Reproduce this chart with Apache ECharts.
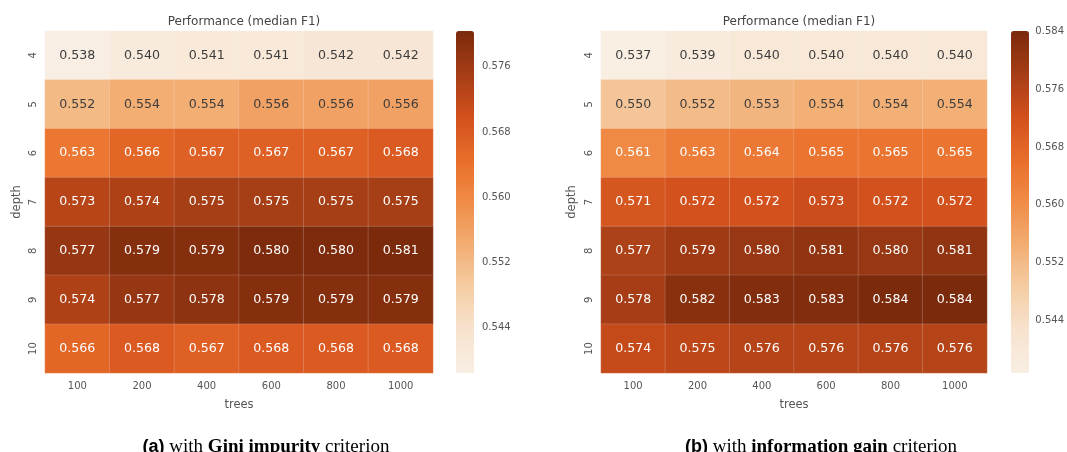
<!DOCTYPE html>
<html><head><meta charset="utf-8">
<script src="https://cdn.jsdelivr.net/npm/echarts@6/dist/echarts.min.js"></script>
<style>html,body{margin:0;padding:0;background:#fff}#c{width:1067px;height:452px}</style>
</head><body><div id="c"></div>
<script>
const trees = ['100','200','400','600','800','1000'];
const depths = ['4','5','6','7','8','9','10'];
const giniF1 = [
  [0.538,0.540,0.541,0.541,0.542,0.542],
  [0.552,0.554,0.554,0.556,0.556,0.556],
  [0.563,0.566,0.567,0.567,0.567,0.568],
  [0.573,0.574,0.575,0.575,0.575,0.575],
  [0.577,0.579,0.579,0.580,0.580,0.581],
  [0.574,0.577,0.578,0.579,0.579,0.579],
  [0.566,0.568,0.567,0.568,0.568,0.568]
];
const infoF1 = [
  [0.537,0.539,0.540,0.540,0.540,0.540],
  [0.550,0.552,0.553,0.554,0.554,0.554],
  [0.561,0.563,0.564,0.565,0.565,0.565],
  [0.571,0.572,0.572,0.573,0.572,0.572],
  [0.577,0.579,0.580,0.581,0.580,0.581],
  [0.578,0.582,0.583,0.583,0.584,0.584],
  [0.574,0.575,0.576,0.576,0.576,0.576]
];
const giniRange = [0.5384, 0.5804];
const infoRange = [0.5368, 0.5840];
const giniTicks = [0.544,0.552,0.560,0.568,0.576];
const infoTicks = [0.544,0.552,0.560,0.568,0.576,0.584];
const oranges = ['#f8eee3','#f7e3cf','#f5cda4','#f2ad72','#f08c47','#e86d2a','#d2501c','#a53d16','#7b2a0c'];

const FONT = 'DejaVu Sans';
function cells(mat, range){
  const mid = (range[0]+range[1])/2;
  const out = [];
  mat.forEach((row, r) => row.forEach((v, c) => {
    out.push({value:[c, r, v], label:{color: v > mid ? '#ffffff' : '#3c3c3c'}});
  }));
  return out;
}
const grids = [
  {left:45, top:31, width:388, height:342},
  {left:601, top:31, width:386, height:342},
  {left:456, top:31, width:18, height:342},
  {left:1011, top:31, width:18, height:342}
];
function catX(i){
  return {type:'category', gridIndex:i, data:trees, position:'bottom',
    axisLine:{show:false}, axisTick:{show:false}, splitArea:{show:false},
    axisLabel:{color:'#555', fontFamily:FONT, fontSize:10, margin:8},
    name:'trees', nameLocation:'middle', nameGap:26,
    nameTextStyle:{color:'#555', fontFamily:FONT, fontSize:11.5}};
}
function catY(i, gap){
  return {type:'category', gridIndex:i, data:depths, inverse:true,
    axisLine:{show:false}, axisTick:{show:false},
    axisLabel:{color:'#555', fontFamily:FONT, fontSize:10, rotate:90, margin:7},
    name:'depth', nameLocation:'middle', nameGap:gap, nameRotate:90,
    nameTextStyle:{color:'#555', fontFamily:FONT, fontSize:11.5}};
}
function barY(i, range, ticks){
  return {type:'value', gridIndex:i, min:range[0], max:range[1], position:'right',
    axisLine:{show:false}, axisTick:{show:false}, splitLine:{show:false},
    axisLabel:{color:'#555', fontFamily:FONT, fontSize:10, margin:8,
      customValues:ticks, formatter:v=>v.toFixed(3)}};
}
const capRich = {
  a:{fontFamily:'Liberation Sans', fontWeight:'bold', fontSize:18, color:'#000'},
  s:{fontFamily:'Liberation Serif', fontWeight:'normal', fontSize:19, color:'#000'},
  b:{fontFamily:'Liberation Serif', fontWeight:'bold', fontSize:19, color:'#000'}
};
const option = {
  animation:false,
  grid:grids,
  title:[
    {text:'Performance (median F1)', left:239, top:11, textAlign:'center',
      textStyle:{color:'#444', fontFamily:FONT, fontSize:12, fontWeight:'normal'}},
    {text:'Performance (median F1)', left:794, top:11, textAlign:'center',
      textStyle:{color:'#444', fontFamily:FONT, fontSize:12, fontWeight:'normal'}},
    {text:'{a|(a)}{s| with }{b|Gini impurity}{s| criterion}', left:261, top:433, textAlign:'center',
      textStyle:{fontWeight:'normal', fontFamily:'Liberation Serif', fontSize:19, rich:capRich}},
    {text:'{a|(b)}{s| with }{b|information gain}{s| criterion}', left:816, top:433, textAlign:'center',
      textStyle:{fontWeight:'normal', fontFamily:'Liberation Serif', fontSize:19, rich:capRich}}
  ],
  xAxis:[catX(0), catX(1),
    {type:'value', gridIndex:2, show:false}, {type:'value', gridIndex:3, show:false}],
  yAxis:[catY(0, 22), catY(1, 23), barY(2, giniRange, giniTicks), barY(3, infoRange, infoTicks)],
  visualMap:[
    {type:'continuous', seriesIndex:0, min:giniRange[0], max:giniRange[1], calculable:false,
      left:456, top:31, itemWidth:18, itemHeight:342, padding:0, text:null, showLabel:false,
      hoverLink:false, inRange:{color:oranges}},
    {type:'continuous', seriesIndex:1, min:infoRange[0], max:infoRange[1], calculable:false,
      left:1011, top:31, itemWidth:18, itemHeight:342, padding:0, text:null, showLabel:false,
      hoverLink:false, inRange:{color:oranges}}
  ],
  series:[
    {type:'heatmap', xAxisIndex:0, yAxisIndex:0, data:cells(giniF1, giniRange),
      label:{show:true, fontFamily:FONT, fontSize:12.6, formatter:p=>p.value[2].toFixed(3)},
      itemStyle:{borderColor:'rgba(255,255,255,0.16)', borderWidth:1}},
    {type:'heatmap', xAxisIndex:1, yAxisIndex:1, data:cells(infoF1, infoRange),
      label:{show:true, fontFamily:FONT, fontSize:12.6, formatter:p=>p.value[2].toFixed(3)},
      itemStyle:{borderColor:'rgba(255,255,255,0.16)', borderWidth:1}}
  ]
};
const chart = echarts.init(document.getElementById('c'), null, {renderer:'canvas'});
chart.setOption(option);
</script></body></html>
